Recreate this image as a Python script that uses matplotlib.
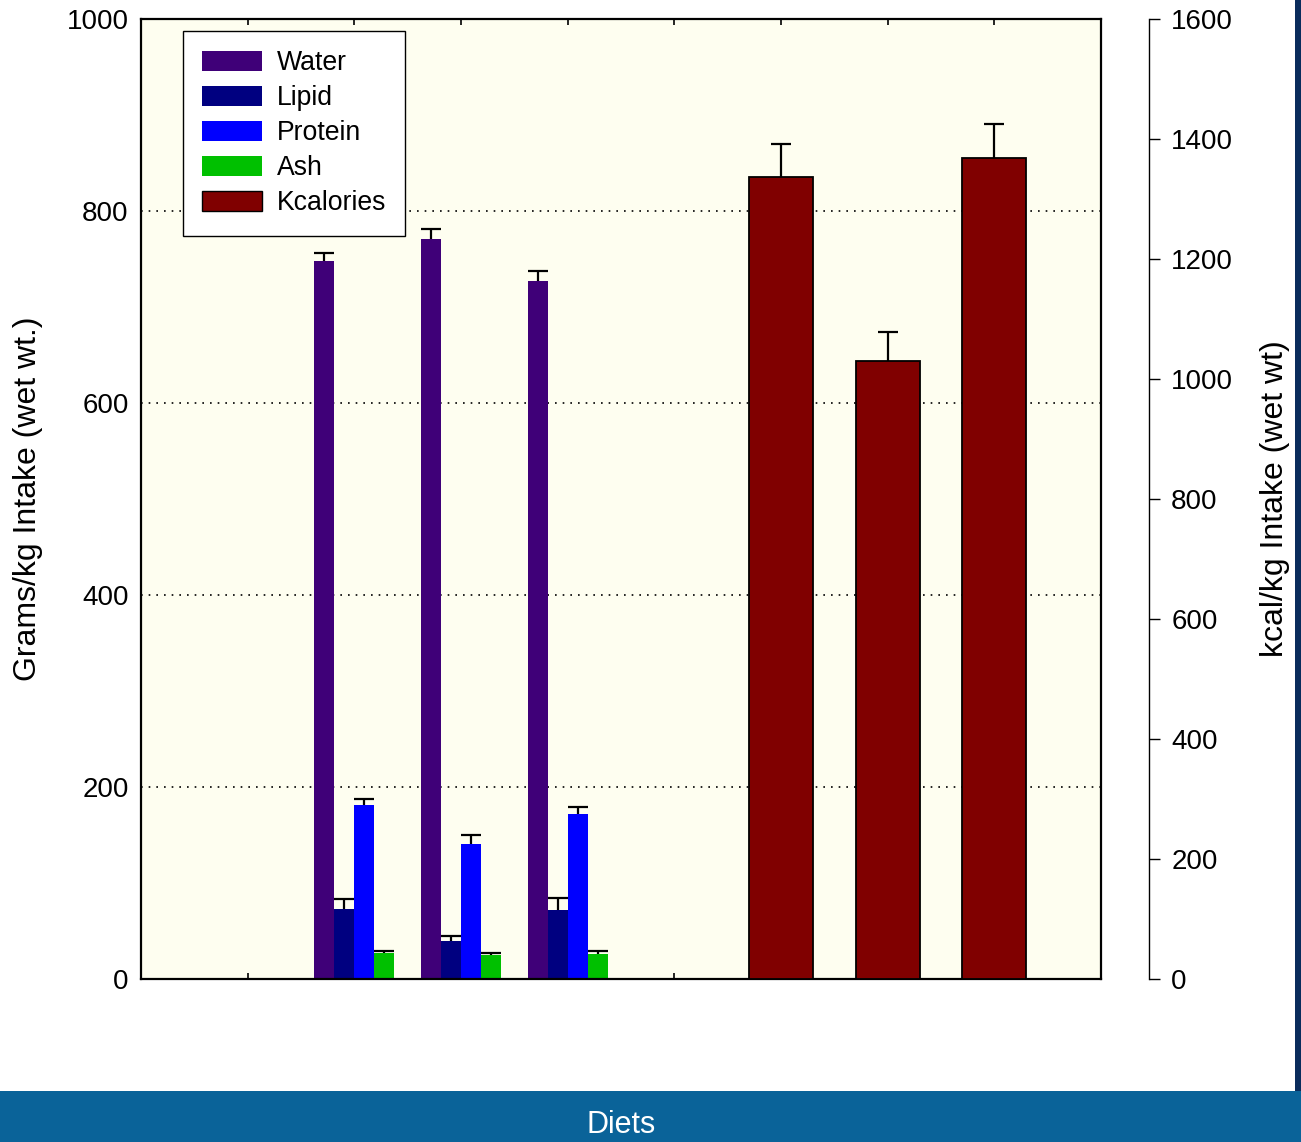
import matplotlib
matplotlib.use("Agg")
import matplotlib.pyplot as plt
from matplotlib.patches import Rectangle, Patch
import numpy as np

plt.rcParams['font.family'] = ['Liberation Sans', 'DejaVu Sans']

# ---- data ----
groups = [2, 3, 4]                # x positions of the composition groups
water = [748, 771, 727]
water_err = [8, 10, 11]
lipid = [73, 40, 72]
lipid_err = [10, 5, 12]
protein = [181, 141, 172]
protein_err = [6, 9, 7]
ash = [27, 25, 26]
ash_err = [2, 2, 3]

kcal_x = [6, 7, 8]
kcal = [1337, 1030, 1368]
kcal_err = [55, 48, 57]

left_ticks = [0, 200, 400, 600, 800, 1000]
right_ticks = [0, 200, 400, 600, 800, 1000, 1200, 1400, 1600]

c_water = '#3F0078'
c_lipid = '#000080'
c_protein = '#0000FF'
c_ash = '#00C000'
c_kcal = '#800000'

W, H = 1301, 1142
fig = plt.figure(figsize=(W / 100, H / 100), dpi=100)
fig.patch.set_facecolor('white')

# background decorations
fig.patches.append(Rectangle((0, 0), 1, (H - 1091) / H, transform=fig.transFigure,
                             facecolor='#0A6399', edgecolor='none', zorder=0))
fig.patches.append(Rectangle((1295 / W, (H - 1091) / H), 6 / W, 1091 / H, transform=fig.transFigure,
                             facecolor='#0A2C5C', edgecolor='none', zorder=0))

ax = fig.add_axes([141 / W, 1 - 979 / H, 960 / W, 960 / H])
ax.set_facecolor('#FEFEF0')
ax.set_xlim(0, 9)
ax.set_ylim(0, 1000)
ax.set_yticks(left_ticks)
ax.tick_params(axis='y', length=0, pad=9, labelsize=20)
ax.set_xticks(range(1, 9))
ax.set_xticklabels([])
ax.tick_params(axis='x', direction='in', length=4, width=1.2, top=True, bottom=True)
for s in ax.spines.values():
    s.set_linewidth(1.6)
ax.yaxis.grid(True, color='black', linestyle=(0, (1, 3.6)), linewidth=1.2)
ax.set_axisbelow(True)

w = 0.1875
g = np.array(groups, dtype=float)
ekw = dict(elinewidth=1.6, capthick=1.6, ecolor='black', capsize=7.3)


def upper_err(axis, x, y, e):
    cont = axis.errorbar(x, y, yerr=[np.zeros(len(e)), e], fmt='none', zorder=3, **ekw)
    caps = cont[1]
    if len(caps) == 2:
        caps[0].set_visible(False)


series = [(water, water_err, c_water, -1.5, 'Water'),
          (lipid, lipid_err, c_lipid, -0.5, 'Lipid'),
          (protein, protein_err, c_protein, 0.5, 'Protein'),
          (ash, ash_err, c_ash, 1.5, 'Ash')]
handles = []
for vals, errs, col, off, lab in series:
    ax.bar(g + off * w, vals, width=w, color=col, edgecolor='none', zorder=2)
    upper_err(ax, g + off * w, vals, errs)
    handles.append(Patch(facecolor=col, edgecolor='none', label=lab))

ax2 = ax.twinx()
ax2.set_ylim(0, 1600)
ax2.set_yticks(right_ticks)
ax2.spines['right'].set_position(('outward', 34.5))
ax2.spines['right'].set_linewidth(1.0)
for k in ['top', 'bottom', 'left']:
    ax2.spines[k].set_visible(False)
ax2.tick_params(axis='y', direction='out', length=8, width=1.0, pad=8, labelsize=20)
ax2.bar(kcal_x, kcal, width=0.6, color=c_kcal, edgecolor='black', linewidth=1.3, zorder=2)
upper_err(ax2, np.array(kcal_x, dtype=float), kcal, kcal_err)
handles.append(Patch(facecolor=c_kcal, edgecolor='black', linewidth=1.0, label='Kcalories'))

leg = ax2.legend(handles=handles, loc='upper left',
                 bbox_to_anchor=(183 / W, 1 - 31 / H), bbox_transform=fig.transFigure,
                 borderaxespad=0, fontsize=19.2, handlelength=2.25, handleheight=0.75,
                 handletextpad=0.55, labelspacing=0.34, borderpad=0.72,
                 fancybox=False, framealpha=1, edgecolor='black', facecolor='white')
leg.get_frame().set_linewidth(1.0)
leg.set_zorder(10)

fig.text(28 / W, 1 - 499 / H, 'Grams/kg Intake (wet wt.)', rotation=90, ha='center', va='center', fontsize=23)
fig.text(1275 / W, 1 - 499 / H, 'kcal/kg Intake (wet wt)', rotation=90, ha='center', va='center', fontsize=23)
fig.text(621 / W, 1 - 1125 / H, 'Diets', ha='center', va='center', fontsize=22, color='white')

fig.savefig('out.png', dpi=100)
